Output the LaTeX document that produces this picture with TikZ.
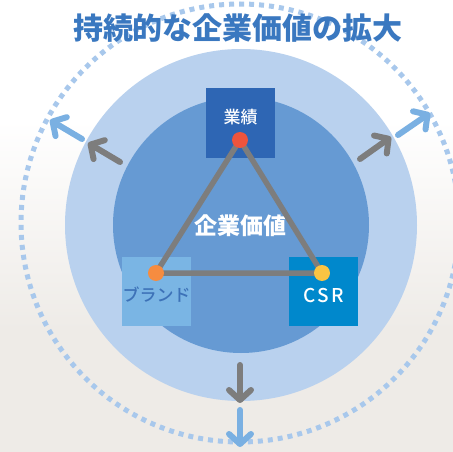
\documentclass[tikz,border=0pt]{standalone}
\usepackage{fontspec}
\newfontfamily\jp{Noto Sans CJK JP}
\newfontfamily\jpm{Noto Sans CJK JP Medium}
\usetikzlibrary{arrows.meta}
\definecolor{bgbeige}{RGB}{238,235,231}
\definecolor{lightc}{RGB}{185,209,238}
\definecolor{darkc}{RGB}{102,154,211}
\definecolor{dotc}{RGB}{168,200,236}
\definecolor{titlec}{RGB}{58,120,192}
\definecolor{kpic}{RGB}{46,102,180}
\definecolor{brandc}{RGB}{122,181,228}
\definecolor{brandtext}{RGB}{61,114,184}
\definecolor{csrc}{RGB}{0,136,204}
\definecolor{grayc}{RGB}{125,125,125}
\definecolor{arrowb}{RGB}{122,176,226}
\definecolor{reddot}{RGB}{238,84,60}
\definecolor{orangedot}{RGB}{246,140,64}
\definecolor{yellowdot}{RGB}{250,196,66}
\tikzset{
  sq/.style={minimum size=69pt, inner sep=0pt, draw=none},
  dotnode/.style={circle, minimum size=16pt, inner sep=0pt},
  tri/.style={grayc, line width=5.5pt, line cap=round},
  garrow/.style={grayc, line width=6pt, line cap=round, -{Straight Barb[length=10pt,width=22pt,round]}},
  barrow/.style={arrowb, line width=6pt, line cap=round, -{Straight Barb[length=10pt,width=22pt,round]}},
  lbl/.style={inner sep=0pt, font=\jp},
}
\begin{document}
\begin{tikzpicture}[x=1pt,y=-1pt]
\useasboundingbox (0,0) rectangle (453,452);
\fill[white] (0,0) rectangle (453,120);
\shade[top color=white, bottom color=bgbeige] (0,120) rectangle (453,330);
\fill[bgbeige] (0,329.5) rectangle (453,452);
% circles
\fill[lightc] (241,225) circle[radius=176pt];
\fill[darkc] (241,225) circle[radius=128pt];
\draw[dotc, line width=5pt, dash pattern=on 5pt off 5pt] (240,223) circle[radius=219pt];
% title
\node[lbl, text=titlec, font=\jp\bfseries\fontsize{30pt}{34pt}\selectfont] (title) at (238,28) {持続的な企業価値の拡大};
% squares
\node[sq, fill=kpic] (kpi) at (240.5,123) {};
\node[sq, fill=brandc] (brand) at (156.5,291.5) {};
\node[sq, fill=csrc] (csr) at (323.5,291.5) {};
\node[lbl, text=white, font=\jpm\fontsize{17pt}{20pt}\selectfont] (kpit) at (240.5,117) {業績};
\node[lbl, text=brandtext, font=\jpm\fontsize{17pt}{20pt}\selectfont] (brandt) at (156.5,295) {ブランド};
\node[lbl, text=white, font=\jpm\fontsize{19pt}{22pt}\selectfont] (csrt) at (323.5,296) {C\kern2pt S\kern2pt R};
\node[lbl, text=white, font=\jp\bfseries\fontsize{23pt}{26pt}\selectfont] (center) at (240,226) {企業価値};
% triangle
\coordinate (pa) at (240,140);
\coordinate (pb) at (156,273);
\coordinate (pc) at (322,273);
\draw[tri] (pa) -- (pb) -- (pc) -- cycle;
\node[dotnode, fill=reddot] (da) at (pa) {};
\node[dotnode, fill=orangedot] (db) at (pb) {};
\node[dotnode, fill=yellowdot] (dc) at (pc) {};
% arrows
\coordinate (g1s) at (120,162); \coordinate (g1e) at (88,143);
\coordinate (b1s) at (82,139); \coordinate (b1e) at (50,120);
\coordinate (g2s) at (360,159); \coordinate (g2e) at (391,137);
\coordinate (b2s) at (398,135); \coordinate (b2e) at (430,113);
\coordinate (g3s) at (240,365); \coordinate (g3e) at (240,403);
\coordinate (b3s) at (240,410); \coordinate (b3e) at (240,447);
\draw[garrow] (g1s) -- (g1e);
\draw[barrow] (b1s) -- (b1e);
\draw[garrow] (g2s) -- (g2e);
\draw[barrow] (b2s) -- (b2e);
\draw[garrow] (g3s) -- (g3e);
\draw[barrow] (b3s) -- (b3e);
\end{tikzpicture}
\end{document}
